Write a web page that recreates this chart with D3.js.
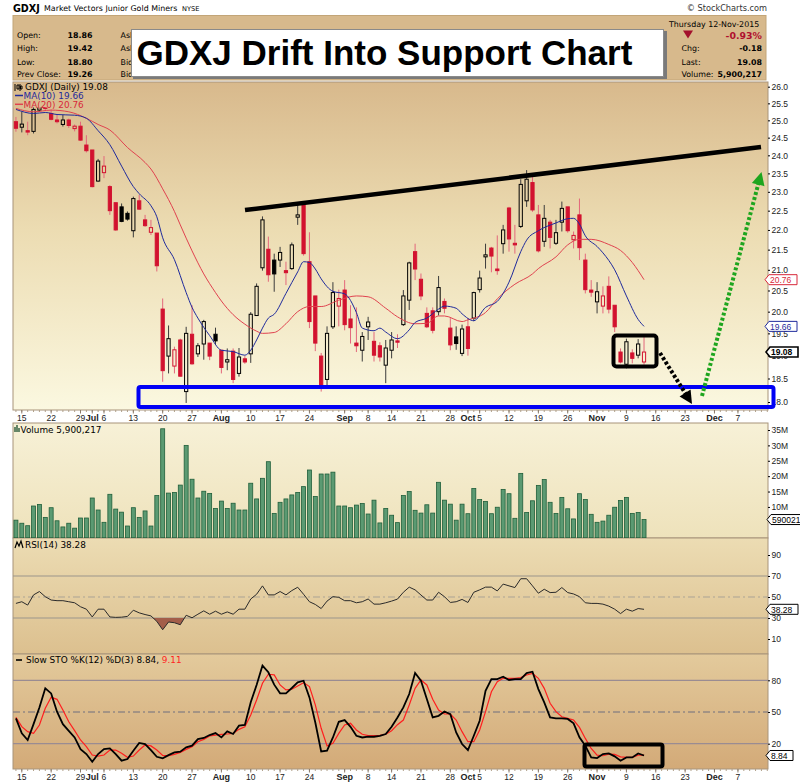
<!DOCTYPE html>
<html><head><meta charset="utf-8">
<script src="https://cdn.jsdelivr.net/npm/d3@7/dist/d3.min.js"></script>
<style>
body{margin:0;background:#fff;}
svg{display:block;font-family:"Liberation Sans",Arial,sans-serif;}
</style></head><body>
<svg id="chart" width="800" height="783"></svg>
<script>
// ================= DATA =================
const symbol = "GDXJ";
const holidays = ["2015-07-03","2015-09-07","2015-11-26"];
const firstDay = [2015,5,12], endExclusive = [2015,11,15];

// daily candles, 2015-06-12 .. 2015-11-12
const openP = [24.96,24.80,24.70,24.68,25.30,25.45,25.20,25.01,24.88,25.01,
24.76,24.83,24.29,24.15,23.29,23.52,23.14,22.71,22.60,22.43,
21.98,22.76,22.26,21.94,21.92,20.06,18.99,18.77,19.35,18.22,
19.48,19.04,19.26,19.28,19.48,19.12,18.86,19.10,18.61,18.93,
19.04,19.91,21.05,21.51,21.24,21.24,20.98,21.03,22.33,22.65,
21.20,20.37,18.99,18.48,19.65,20.13,20.51,19.83,19.28,19.12,
19.65,19.32,19.22,18.79,19.12,19.33,19.70,20.27,21.45,20.77,
19.96,20.02,20.00,20.24,19.62,19.42,19.05,19.65,19.85,20.52,
21.32,21.54,21.02,21.65,22.57,21.66,22.09,22.76,23.25,22.39,
21.71,22.20,21.66,22.20,22.60,21.75,22.39,21.24,20.51,20.23,
20.13,20.60,20.15,19.08,18.81,19.06,19.01,18.86];
const highP = [25.10,25.25,24.96,25.40,25.70,25.60,25.32,25.16,25.16,25.05,
24.88,24.96,24.57,24.15,23.90,23.98,23.18,22.71,22.69,22.48,
22.87,22.92,22.39,22.26,21.92,20.31,19.68,19.20,19.38,19.65,
20.15,19.28,19.81,19.28,19.63,19.12,19.16,19.16,19.17,18.99,
19.99,20.67,22.35,21.83,21.40,21.57,21.20,21.68,22.65,22.65,
21.94,20.37,19.06,19.66,20.70,20.52,20.75,20.15,20.10,19.53,
19.88,19.53,19.30,19.35,19.53,19.48,20.51,21.20,21.65,20.91,
20.10,20.10,20.85,20.31,19.85,19.66,19.70,19.85,20.47,20.98,
21.65,21.57,21.86,22.13,22.60,22.13,23.34,23.59,23.40,22.65,
22.65,22.26,22.26,22.74,22.60,21.96,22.82,21.40,20.75,20.70,
20.60,20.84,20.15,19.16,19.38,19.14,19.37,19.42];
const lowP = [24.67,24.65,24.57,24.62,25.25,25.30,25.00,24.91,24.82,24.78,
24.68,24.41,24.08,23.12,23.27,23.37,22.39,21.98,22.20,22.24,
21.81,22.52,22.08,21.87,20.96,18.43,18.61,18.61,18.54,17.98,
18.80,18.97,18.91,18.90,19.24,18.61,18.68,18.40,18.54,18.82,
18.84,19.91,20.98,20.71,20.47,21.07,20.63,21.00,22.13,21.35,
19.62,19.10,18.22,18.36,19.60,19.66,19.57,19.27,19.08,18.87,
19.35,18.87,18.87,18.40,18.94,19.17,19.67,20.04,20.75,20.27,
19.62,19.50,19.91,19.96,19.12,19.13,18.99,19.00,19.78,20.45,
21.03,20.94,20.88,21.40,21.45,21.40,22.05,22.60,22.47,21.43,
21.57,21.53,21.62,21.96,21.93,21.53,21.24,20.43,20.35,19.96,
19.96,19.96,19.53,18.83,18.72,18.83,18.94,18.80];
const closeP = [24.77,24.89,24.66,25.32,25.50,25.35,25.03,24.96,25.01,24.85,
24.83,24.43,24.13,23.14,23.84,23.70,22.50,22.00,22.22,22.28,
22.82,22.54,22.11,22.06,21.10,18.67,19.38,19.13,18.55,19.50,
18.82,19.22,19.77,18.99,19.33,18.74,18.91,18.48,18.97,18.86,
19.94,20.60,22.26,20.88,20.90,21.43,20.93,21.62,22.39,21.40,
19.77,19.28,18.32,19.50,20.45,20.31,19.70,19.63,19.22,19.43,
19.76,19.01,18.97,19.17,19.35,19.30,20.37,21.17,21.02,20.37,
19.65,19.57,20.57,20.08,19.24,19.27,19.60,19.16,20.45,20.80,
21.37,21.34,20.98,22.00,21.77,21.62,23.20,23.34,22.52,21.47,
22.30,21.81,21.93,22.56,21.98,21.86,21.55,20.52,20.46,20.47,
20.37,20.06,19.65,18.86,19.31,18.94,19.26,19.08];

// moving averages: [trading day number from 2015-06-12, value]
const ma10 = [[0,25.32],[3,25.20],[5,25.23],[7,25.17],[10,25.15],[12,25.06],[14,24.70],[16,24.30],[18,23.70],[20,23.14],[21,22.95],[23,22.63],[24,22.34],[25,21.80],[27,21.25],[29,20.45],[30,20.10],[31,19.85],[33,19.45],[35,19.12],[37,19.09],[39,19.01],[40,19.12],[41,19.35],[42,19.62],[43,19.85],[44,19.94],[46,20.43],[48,20.95],[49,21.20],[50,21.18],[51,21.02],[52,20.78],[54,20.48],[56,20.42],[58,19.98],[59,19.62],[61,19.56],[62,19.62],[63,19.53],[65,19.38],[67,19.58],[68,19.75],[70,19.85],[72,20.06],[73,20.13],[75,20.08],[76,19.95],[78,19.79],[80,20.10],[82,20.24],[84,20.70],[86,21.45],[87,21.74],[89,21.98],[92,22.18],[94,22.29],[95,22.30],[96,22.15],[97,21.85],[99,21.58],[100,21.42],[102,21.00],[104,20.37],[106,19.82],[107,19.66]];
const ma20 = [[0,25.35],[3,25.25],[6,25.30],[9,25.25],[12,25.06],[14,24.88],[16,24.72],[19,24.22],[22,23.80],[23,23.62],[25,23.08],[27,22.48],[28,22.13],[30,21.47],[32,20.90],[34,20.45],[35,20.25],[37,19.93],[39,19.71],[41,19.55],[42,19.50],[44,19.52],[46,19.72],[48,20.00],[50,20.12],[52,20.12],[55,20.27],[58,20.37],[60,20.35],[63,20.08],[65,19.88],[68,19.72],[70,19.73],[72,19.90],[73,19.90],[76,19.77],[77,19.81],[80,19.98],[82,20.30],[85,20.65],[88,20.90],[89,21.03],[92,21.32],[94,21.62],[96,21.76],[98,21.76],[101,21.63],[103,21.48],[105,21.18],[107,20.76]];

// volume, millions of shares
const volumeM = [5.7,4.7,3.9,10.3,10.8,6.6,9.75,5.5,3.5,4.7,
3.1,6.4,6.4,12.9,9.0,5.0,14.1,9.3,8.3,3.8,
9.75,6.6,8.7,3.8,13.7,35.4,14.5,14.7,17.1,30.0,
19.0,12.9,15.1,14.4,9.5,11.9,9.5,11.2,9.0,9.0,
17.7,12.6,19.3,24.7,7.9,11.5,12.6,13.9,14.7,16.6,
22.0,13.4,20.7,20.7,21.3,10.3,10.3,9.75,10.6,11.1,
7.7,12.2,4.8,9.5,7.3,4.9,
13.7,15.0,8.9,8.0,10.7,8.0,18.0,12.2,10.9,5.7,
10.9,7.8,16.0,12.4,11.8,7.8,9.9,15.7,14.3,6.3,
20.9,8.2,12.0,17.0,18.9,11.5,7.9,13.1,9.4,6.1,
14.3,12.4,7.6,5.0,5.4,7.3,9.9,12.1,13.1,7.9,
8.2,5.900217];

const rsi14 = [43.9,45.5,42.3,52.0,55.2,50.3,47.1,46.5,46.5,45.5,
44.5,40.7,38.4,31.0,38.4,38.4,31.0,30.6,30.8,31.5,
37.4,34.9,33.3,32.0,26.8,18.8,26.2,25.5,23.6,32.6,
30.2,33.6,36.8,33.6,36.5,33.6,35.8,33.6,38.4,38.4,
48.1,52.6,60.6,52.0,52.0,55.2,52.0,56.1,59.3,52.6,
45.5,42.9,39.0,46.1,50.3,49.7,46.5,46.5,44.5,45.5,
48.1,43.2,43.2,44.5,46.1,48.0,
54.5,59.4,56.8,51.9,47.1,47.1,54.5,50.3,44.8,45.5,
47.7,44.8,54.5,56.8,59.4,59.4,55.8,62.3,60.6,59.0,
67.4,67.4,60.6,53.6,57.4,54.2,54.5,59.0,54.2,52.9,
50.3,44.5,43.9,43.9,43.2,41.3,38.4,34.2,38.4,36.5,39.0,38.28];

const stoK = [44,29.8,23.5,38.5,54.3,72.4,67.6,50.3,38.5,32.2,
25.9,14.9,10.2,2.9,10.2,14.9,15.6,10.2,3.9,5.5,
13.4,20.7,19.7,14,7.6,6.1,9.2,11.8,12.4,16.5,
18.1,24.4,25.4,28.2,30.1,26,31.7,29.2,37.1,37.7,
59.2,75.6,93.9,87.6,75.9,67.7,67.7,72.7,78.1,79.6,
63.8,40.1,12.7,13.4,25.9,40.7,42.3,36,27.5,25.9,
26.6,26.6,27.5,29.1,36,44.8,
54.3,67,86.9,79.6,62.3,44.9,46.4,50.5,48,30.6,
19.7,14,27.5,41.7,70.1,81.2,81.2,83.4,80.3,81.2,
81.2,86.9,88.1,71.7,59.1,44.9,44,44,43.4,39.3,
26,18.1,7,6.4,10.2,10.8,8,3.9,7,7,10.8,8.84];
const stoD = [44.9,36.1,31.4,29.8,37.7,53.5,63.9,62,51.9,40.8,
32.3,23.5,17.2,9.3,8.3,9.3,14,14,10.9,7.1,
8.3,14,18.8,17.9,14,8.9,8.6,9.9,11.8,14.6,
17.2,21.9,24.1,27.3,28.2,28.9,29.2,29.8,33.6,36.1,
47.2,61.4,77.2,85.7,85.1,75.6,70.9,71.5,74.7,77.8,
74.1,56.7,34.6,17.9,20.4,29.8,37.7,39.3,33,28.9,
27.6,27.6,27.9,28.9,32.3,38,
42.4,56.6,72.4,80.3,75.6,62,51.9,48.1,48.1,42.4,
31.4,21.9,21.9,33,50.3,69.2,78.7,81.9,81.9,81.9,
82.5,85,86.6,81.9,72.4,58.2,50.3,45.5,43.9,42.4,
35.4,25,15.5,9.2,8.6,10.2,9.9,7.6,7,7,9.2,9.11];

const tickDates = ["2015-06-15","2015-06-22","2015-06-29","2015-07-01","2015-07-06","2015-07-13","2015-07-20","2015-07-27","2015-08-03","2015-08-10","2015-08-17","2015-08-24","2015-09-01","2015-09-08","2015-09-14","2015-09-21","2015-09-28","2015-10-01","2015-10-05","2015-10-12","2015-10-19","2015-10-26","2015-11-02","2015-11-09","2015-11-16","2015-11-23","2015-12-01","2015-12-07"];
const tickLabels = ["15","22","29","Jul","6","13","20","27","Aug","10","17","24","Sep","8","14","21","28","Oct","5","12","19","26","Nov","9","16","23","Dec","7"];
const priceTicks = [18,18.5,19,19.5,20,20.5,21,21.5,22,22.5,23,23.5,24,24.5,25,25.5,26];
const volTicks = [10,15,20,25,30,35];
const rsiTicks = [10,30,50,70,90];
const stoTicks = [20,50,80];

const title = "GDXJ Drift Into Support Chart";
const header = {name:"Market Vectors Junior Gold Miners", exch:"NYSE", date:"Thursday 12-Nov-2015",
  open:"18.86", high:"19.42", low:"18.80", prev:"19.26", pct:"-0.93%", chg:"-0.18", last:"19.08", vol:"5,900,217"};

// ================= LAYOUT =================
const L = 13, R = 768;
const PP = {t:82, b:410}, VP = {t:423, b:538}, RP = {t:538, b:654}, SP = {t:654, b:769};
const svg = d3.select("#chart");
const defs = svg.append("defs");
function grad(id, p, stops){
  const g = defs.append("linearGradient").attr("id",id).attr("gradientUnits","userSpaceOnUse")
    .attr("x1",0).attr("y1",p.t).attr("x2",0).attr("y2",p.b);
  stops.forEach(([o,c])=>g.append("stop").attr("offset",o).attr("stop-color",c));
}
grad("gP",PP,[[0,"#d8b98c"],[0.45,"#ecdcb2"],[1,"#fbf8e0"]]);
grad("gV",VP,[[0,"#f7f1d7"],[1,"#eee2bb"]]);
grad("gR",RP,[[0,"#ecdcb3"],[1,"#dcc08f"]]);
grad("gS",SP,[[0,"#e3ca9c"],[1,"#d3aa78"]]);
function clip(id, p){ defs.append("clipPath").attr("id",id).append("rect").attr("x",L).attr("y",p.t).attr("width",R-L).attr("height",p.b-p.t); }
clip("cP",PP); clip("cV",VP); clip("cR",RP); clip("cS",SP);

const fmt = d3.timeFormat("%Y-%m-%d");
const days = d3.timeDay.range(new Date(...firstDay), new Date(...endExclusive))
  .filter(d => d.getDay()%6!==0 && !holidays.includes(fmt(d))).map(fmt);
const dayIdx = new Map(days.map((d,i)=>[d,i]));
const x = d3.scaleLinear().domain([-0.5, 128.12]).range([L, R]);
const yP = d3.scaleLog().domain([18,26]).range([402,86.7]);
const yV = d3.scaleLinear().domain([0,35]).range([537.7,430]);
const yR = d3.scaleLinear().domain([10,90]).range([639,555]);
const yS = d3.scaleLinear().domain([20,80]).range([743.7,680.3]);

// ================= HEADER =================
const DJ = "'DejaVu Sans',Verdana,sans-serif";
function txt(xx,yy,t,opt={}){
  return svg.append("text").attr("x",xx).attr("y",yy).text(t)
    .style("font-family",opt.ff||DJ).style("font-size",(opt.fs||8)+"px")
    .style("font-weight",opt.bold?"bold":"normal").attr("fill",opt.fill||"#000")
    .attr("text-anchor",opt.anchor||"start");
}
txt(13,11.5,symbol,{fs:9.6,bold:true});
txt(44,11,header.name,{fs:7.9});
txt(182,11,header.exch,{fs:6.6});
txt(767,11,"© StockCharts.com",{fs:8.2,anchor:"end",fill:"#333"});

svg.append("rect").attr("x",L).attr("y",15.5).attr("width",R-L-2).attr("height",64.5)
  .attr("fill","#d7b98c").attr("stroke","#c2a578");
const rowsY = [38,51.3,64.7,76.5];
[["Open:",header.open],["High:",header.high],["Low:",header.low],["Prev Close:",header.prev]].forEach(([a,b],k)=>{
  txt(17,rowsY[k],a,{fs:7.9}); txt(67.5,rowsY[k],b,{fs:7.9,bold:true});
});
["Ask:","Ask Size:","Bid:","Bid Size:"].forEach((a,k)=>txt(120.5,rowsY[k],a,{fs:7.9}));
txt(669,26.5,header.date,{fs:7.9});
svg.append("path").attr("d","M683,30.5 L693,30.5 L688,38.5 Z").attr("fill","#a3102c");
txt(762,38.5,header.pct,{fs:9.4,bold:true,anchor:"end",fill:"#b0102e"});
[["Chg:",header.chg],["Last:",header.last],["Volume:",header.vol]].forEach(([a,b],k)=>{
  txt(681.5,rowsY[k+1],a,{fs:7.9}); txt(762,rowsY[k+1],b,{fs:7.9,bold:true,anchor:"end"});
});

// ================= PANELS =================
[[PP,"gP"],[VP,"gV"],[RP,"gR"],[SP,"gS"]].forEach(([p,g])=>{
  svg.append("rect").attr("x",L).attr("y",p.t).attr("width",R-L).attr("height",p.b-p.t)
    .attr("fill",`url(#${g})`).attr("stroke","#a8947a").attr("stroke-width",1);
});

// x-axis rows
function xAxisRow(y0){
  const g = svg.append("g");
  days.forEach((d,i)=>{ g.append("line").attr("x1",x(i)).attr("x2",x(i)).attr("y1",y0).attr("y2",y0+2)
    .attr("stroke","#b0a08a").attr("stroke-width",1); });
  tickDates.forEach((d,k)=>{
    const lab = tickLabels[k], bold = /[A-Za-z]/.test(lab);
    g.append("line").attr("x1",x(dayIdx.get(d))).attr("x2",x(dayIdx.get(d))).attr("y1",y0).attr("y2",y0+3.5).attr("stroke","#8a7a6a");
    g.append("text").attr("x",x(dayIdx.get(d))).attr("y",y0+10.5).attr("text-anchor","middle")
      .style("font-size",bold?"9px":"8.5px").style("font-weight",bold?"bold":"normal").attr("fill","#222").text(lab);
  });
}
xAxisRow(PP.b); xAxisRow(SP.b);

// ================= PRICE =================
const gP = svg.append("g").attr("clip-path","url(#cP)");
const red = "#d2122f";
closeP.forEach((c,a)=>{
  const o=openP[a], h=highP[a], l=lowP[a];
  const prev = a>0 ? closeP[a-1] : o;
  const down = c < prev;
  const col = down ? red : "#000";
  const wc = down ? "#e3677b" : "#3c3c3c";
  const cx = x(a);
  const top = yP(Math.max(o,c)), bot = yP(Math.min(o,c));
  gP.append("line").attr("x1",cx).attr("x2",cx).attr("y1",yP(h)).attr("y2",top).attr("stroke",wc).attr("stroke-width",1);
  gP.append("line").attr("x1",cx).attr("x2",cx).attr("y1",bot).attr("y2",yP(l)).attr("stroke",wc).attr("stroke-width",1);
  gP.append("rect").attr("x",cx-1.6).attr("y",top).attr("width",3.2).attr("height",Math.max(bot-top,1))
    .attr("fill", c<o ? col : "none").attr("stroke",col).attr("stroke-width",1);
});
const maLine = d3.line().x(d=>x(d[0])).y(d=>yP(d[1])).curve(d3.curveMonotoneX);
gP.append("path").attr("d",maLine(ma20)).attr("fill","none").attr("stroke","#e0424f").attr("stroke-width",1);
gP.append("path").attr("d",maLine(ma10)).attr("fill","none").attr("stroke","#1f2a9c").attr("stroke-width",1);

// legend (opaque, same gradient as the panel)
svg.append("rect").attr("x",L+0.5).attr("y",PP.t+0.5).attr("width",60).attr("height",25).attr("fill","url(#gP)");
svg.append("path").attr("d","M15,84 v7 M17,85 h2 v4 h-2z M20,84 v7 M22,86 h-1.5 v3 h1.5z").attr("stroke","#000").attr("fill","none").attr("stroke-width",1);
txt(25,90,"GDXJ (Daily) 19.08",{fs:8.9});
svg.append("line").attr("x1",15).attr("x2",23).attr("y1",95.5).attr("y2",95.5).attr("stroke","#1f2a9c").attr("stroke-width",1.5);
txt(23.5,99,"MA(10) 19.66",{fs:8.9,fill:"#1f2a9c"});
svg.append("line").attr("x1",15).attr("x2",23).attr("y1",104.3).attr("y2",104.3).attr("stroke","#e0424f").attr("stroke-width",1.5);
txt(23.5,107.6,"MA(20) 20.76",{fs:8.9,fill:"#d8283a"});

// price axis
const axP = svg.append("g").attr("transform",`translate(${R},0)`)
  .call(d3.axisRight(yP).tickValues(priceTicks).tickFormat(d3.format(".1f")).tickSize(2).tickPadding(1.5));
axP.select(".domain").remove();
axP.selectAll("text").style("font-size","8.5px").attr("fill","#222");

// ================= VOLUME =================
const gV = svg.append("g").attr("clip-path","url(#cV)");
volumeM.forEach((v,a)=>{
  gV.append("rect").attr("x",x(a)-2).attr("y",yV(v)).attr("width",4).attr("height",yV(0)-yV(v))
    .attr("fill","#5b9a72").attr("stroke","#1f5e3a").attr("stroke-width",0.8);
});
svg.append("path").attr("d","M15,432 v-5 M17,432 v-7 M19,432 v-4").attr("stroke","#2a5a3a").attr("stroke-width",1.4);
txt(20.5,432.6,"Volume 5,900,217",{fs:8.9});
const axV = svg.append("g").attr("transform",`translate(${R},0)`)
  .call(d3.axisRight(yV).tickValues(volTicks).tickFormat(d=>d+"M").tickSize(2).tickPadding(1.5));
axV.select(".domain").remove();
axV.selectAll("text").style("font-size","8.5px").attr("fill","#222");

// ================= RSI =================
const gR = svg.append("g").attr("clip-path","url(#cR)");
[30,70].forEach(v=>gR.append("line").attr("x1",L).attr("x2",R).attr("y1",yR(v)).attr("y2",yR(v)).attr("stroke","#9c968c").attr("stroke-width",1.2));
gR.append("line").attr("x1",L).attr("x2",R).attr("y1",yR(50)).attr("y2",yR(50)).attr("stroke","#aaa395").attr("stroke-width",1).attr("stroke-dasharray","7,3,2,3");
defs.append("clipPath").attr("id","below30").append("rect").attr("x",L).attr("y",yR(30)).attr("width",R-L).attr("height",RP.b-yR(30));
gR.append("path").attr("clip-path","url(#below30)")
  .attr("d",d3.area().x((d,i)=>x(i)).y0(yR(30)).y1(d=>yR(d))(rsi14)).attr("fill","#a35e49");
gR.append("path").attr("d",d3.line().x((d,i)=>x(i)).y(d=>yR(d))(rsi14)).attr("fill","none").attr("stroke","#2a2a2a").attr("stroke-width",1);
svg.append("path").attr("d","M15,548 L17,542 L19,546 L21,541 L23,548").attr("stroke","#000").attr("fill","none").attr("stroke-width",1.2);
txt(25,548,"RSI(14) 38.28",{fs:8.9});
const axR = svg.append("g").attr("transform",`translate(${R},0)`)
  .call(d3.axisRight(yR).tickValues(rsiTicks).tickSize(2).tickPadding(1.5));
axR.select(".domain").remove();
axR.selectAll("text").style("font-size","8.5px").attr("fill","#222");

// ================= STO =================
const gS = svg.append("g").attr("clip-path","url(#cS)");
[20,80].forEach(v=>gS.append("line").attr("x1",L).attr("x2",R).attr("y1",yS(v)).attr("y2",yS(v)).attr("stroke","#9a8c92").attr("stroke-width",1.2));
gS.append("line").attr("x1",L).attr("x2",R).attr("y1",yS(50)).attr("y2",yS(50)).attr("stroke","#6f6f7e").attr("stroke-width",1).attr("stroke-dasharray","7,3,2,3");
const sLine = d3.line().x((d,i)=>x(i)).y(d=>yS(d));
gS.append("path").attr("d",sLine(stoD)).attr("fill","none").attr("stroke","#ff1f1f").attr("stroke-width",1.2);
gS.append("path").attr("d",sLine(stoK)).attr("fill","none").attr("stroke","#000").attr("stroke-width",1.8);
svg.append("line").attr("x1",16).attr("x2",22).attr("y1",660).attr("y2",660).attr("stroke","#000").attr("stroke-width",1.6);
const st = txt(26,663.3,"Slow STO %K(12) %D(3) 8.84, ",{fs:8.9});
st.append("tspan").attr("fill","#ff1f1f").text("9.11");
const axS = svg.append("g").attr("transform",`translate(${R},0)`)
  .call(d3.axisRight(yS).tickValues(stoTicks).tickSize(2).tickPadding(1.5));
axS.select(".domain").remove();
axS.selectAll("text").style("font-size","8.5px").attr("fill","#222");

// ================= VALUE TAGS =================
function tag(x0,y0,t,color,bold,sw){
  const h=10, w=t.length*5+7;
  svg.append("path").attr("d",`M${x0},${y0} L${x0+4},${y0-h/2} L${x0+w},${y0-h/2} L${x0+w},${y0+h/2} L${x0+4},${y0+h/2} Z`)
    .attr("fill","#fff").attr("stroke",color).attr("stroke-width",sw||1);
  svg.append("text").attr("x",x0+5).attr("y",y0+3.3).text(t).attr("fill",color)
    .style("font-size","8.5px").style("font-weight",bold?"bold":"normal");
}
tag(765,yP(20.76),"20.76","#d8283a");
tag(765,yP(19.66),"19.66","#1f2a9c");
tag(766,yP(19.08),"19.08","#000",true,1.6);
tag(767,yV(5.900217),"5900217","#000");
tag(766,yR(38.28),"38.28","#000");
tag(766,yS(8.84),"8.84","#000");

// ================= ANNOTATIONS =================
// title box
svg.append("rect").attr("x",133).attr("y",31).attr("width",534).attr("height",48).attr("fill","#7a7a7a");
svg.append("rect").attr("x",131.5).attr("y",29.5).attr("width",532).attr("height",47).attr("fill","#fff").attr("stroke","#8a8a8a");
svg.append("text").attr("x",136.5).attr("y",65).text(title)
  .style("font-family","'Liberation Sans',Arial,sans-serif").style("font-size","35px").style("font-weight","bold").attr("fill","#000");
// resistance line
svg.append("line").attr("x1",245).attr("y1",210).attr("x2",761).attr("y2",147).attr("stroke","#000").attr("stroke-width",4.5);
// support rectangle
svg.append("rect").attr("x",138.5).attr("y",387).attr("width",635).attr("height",20).attr("rx",2)
  .attr("fill","none").attr("stroke","#0000f5").attr("stroke-width",4);
// consolidation box
svg.append("rect").attr("x",613.5).attr("y",335.5).attr("width",43).attr("height",31).attr("rx",3)
  .attr("fill","none").attr("stroke","#000").attr("stroke-width",4);
// STO box
svg.append("rect").attr("x",584.5).attr("y",744.5).attr("width",78).attr("height",22).attr("rx",2)
  .attr("fill","none").attr("stroke","#000").attr("stroke-width",4);
// arrows
function arrow(x1,y1,x2,y2,color){
  const dx=x2-x1, dy=y2-y1, len=Math.hypot(dx,dy), ux=dx/len, uy=dy/len;
  const hl=13, hw=6.5, bx=x2-ux*hl, by=y2-uy*hl;
  svg.append("line").attr("x1",x1).attr("y1",y1).attr("x2",bx+ux*2).attr("y2",by+uy*2)
    .attr("stroke",color).attr("stroke-width",4).attr("stroke-dasharray","3,2.2");
  svg.append("path").attr("d",`M${x2},${y2} L${bx-uy*hw},${by+ux*hw} L${bx+uy*hw},${by-ux*hw} Z`).attr("fill",color);
}
arrow(660,353,692,404,"#000");
arrow(702,396,761.5,172,"#1ea51e");
</script>
</body></html>
